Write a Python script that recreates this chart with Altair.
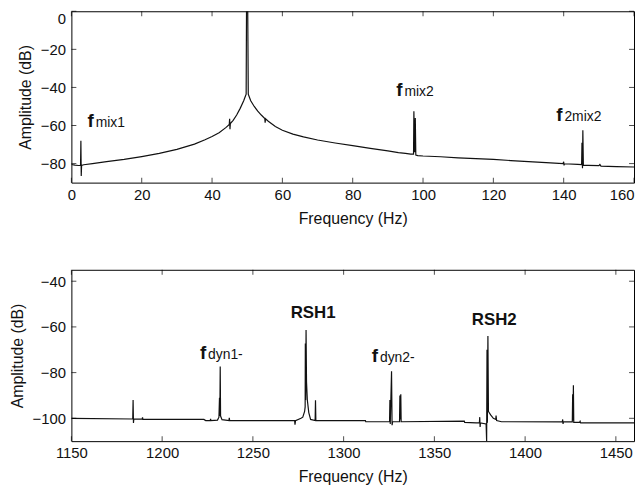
import altair as alt
import pandas as pd

# ---------------- data: top spectrum (0-160 Hz) ----------------
top_freq = [0.0, 1.0, 2.0, 2.6, 2.7, 2.8, 2.9, 3.5, 6, 10, 15, 20, 25, 30, 35, 38, 40, 42, 44,
            44.9, 45.0, 45.1, 45.2, 46, 47, 48, 49, 49.5, 49.7, 49.8, 50.15, 50.3, 50.6, 51, 52,
            53, 54, 55, 55.1, 55.2, 56, 58, 60, 63, 66, 70, 75, 80, 85, 90, 93, 95, 96.5, 97.3,
            97.4, 97.6, 97.8, 97.95, 98.5, 100, 105, 110, 115, 120, 125, 130, 135, 139.8, 140,
            140.1, 140.2, 144, 145.1, 145.2, 145.35, 145.45, 145.6, 147, 150, 150.3, 150.6, 155, 160]
top_amp = [-80.5, -80.8, -81.0, -81.0, -68.0, -86.5, -81.0, -80.6, -80.0, -79.0, -77.8, -76.3,
           -74.6, -72.5, -69.8, -67.5, -65.8, -63.8, -61.0, -59.5, -56.5, -62.0, -59.0, -57.3,
           -54.5, -51.0, -47.0, -44.5, -43.5, 0.0, 0.0, -43.5, -45.0, -47.0, -50.0, -52.5, -54.5,
           -56.3, -58.5, -56.5, -57.8, -60.5, -62.5, -64.5, -66.0, -67.6, -69.2, -70.6, -72.0,
           -73.3, -74.2, -74.6, -75.0, -75.0, -52.5, -74.0, -56.0, -75.5, -75.8, -76.0, -76.4,
           -77.0, -77.4, -77.8, -78.4, -79.0, -79.5, -80.0, -79.0, -81.0, -80.1, -80.4, -80.5,
           -69.0, -82.5, -62.5, -80.8, -80.9, -81.1, -80.5, -81.3, -81.6, -81.8]

# ---------------- data: bottom spectrum (1150-1460 Hz) ----------------
bot_freq = [1150, 1183.8, 1184.0, 1184.2, 1184.4, 1189, 1189.2, 1189.4, 1223, 1224, 1226.5,
            1226.7, 1226.9, 1230.5, 1231.3, 1231.6, 1231.8, 1232.0, 1232.2, 1233, 1236.8, 1237,
            1237.2, 1273, 1273.2, 1273.5, 1276.5, 1277.5, 1278.5, 1278.8, 1278.9, 1279.1, 1279.3,
            1279.55, 1280, 1280.8, 1281.8, 1284.3, 1284.5, 1284.7, 1312, 1312.2, 1325.3, 1325.5,
            1325.7, 1326.4, 1326.7, 1327, 1330.8, 1331, 1331.3, 1331.5, 1331.7, 1366.5, 1366.7,
            1373, 1374.8, 1375, 1375.2, 1375.4, 1378.5, 1378.8, 1379.0, 1379.2, 1379.5, 1379.8,
            1381, 1382.5, 1383.8, 1384, 1384.3, 1387, 1420.5, 1420.7, 1420.9, 1421.1, 1426.0,
            1426.2, 1426.4, 1426.6, 1426.8, 1430, 1430.3, 1430.6, 1460]
bot_amp = [-100.0, -100.3, -92.0, -102.0, -100.3, -100.4, -99.6, -100.5, -100.5, -101.0, -101.0,
           -100.3, -101.0, -100.8, -99.5, -91.0, -99.0, -77.3, -99.0, -100.6, -101.0, -99.8,
           -101.0, -101.0, -102.8, -101.0, -100.0, -99.5, -97.0, -95.0, -67.3, -92.0, -61.3,
           -84.0, -92.0, -97.5, -100.5, -101.0, -92.1, -101.0, -101.0, -101.5, -101.5, -92.0,
           -102.5, -79.4, -103.0, -101.5, -101.5, -90.0, -100.5, -89.5, -101.5, -101.2, -101.8,
           -102.0, -102.0, -99.5, -103.8, -102.0, -102.5, -110.0, -70.0, -102.0, -64.0, -97.0,
           -98.5, -100.0, -100.5, -98.8, -101.0, -101.5, -101.6, -100.5, -102.5, -101.6, -101.6,
           -89.5, -101.0, -85.5, -101.8, -101.8, -101.3, -102.0, -102.0]

# ---------------- annotations ----------------
top_f_x = [4.6, 92.4, 137.9]
top_f_y = [-61.0, -44.6, -57.7]
top_sub_x = [6.9, 94.7, 140.2]
top_sub_text = ["mix1", "mix2", "2mix2"]

bot_f_x = [1220.8, 1315.5]
bot_f_y = [-74.1, -75.5]
bot_sub_x = [1225.3, 1320.0]
bot_sub_text = ["dyn1-", "dyn2-"]
bot_rsh_x = [1283.2, 1383.0]
bot_rsh_y = [-56.1, -59.0]
bot_rsh_text = ["RSH1", "RSH2"]

top_xticks = [0, 20, 40, 60, 80, 100, 120, 140, 160]
top_yticks = [0, -20, -40, -60, -80]
bot_xticks = [1150, 1200, 1250, 1300, 1350, 1400, 1450]
bot_yticks = [-40, -60, -80, -100]

FONT = "Liberation Sans"
INK = "#111111"
W, H = 568, 173
TICK = 5


def panel(freq, amp, xdom, ydom, xticks, yticks, f_x, f_y, sub_x, sub_text,
          bold_x=None, bold_y=None, bold_text=None):
    df = pd.DataFrame({"f": freq, "a": amp, "i": list(range(len(freq)))})
    xs = alt.Scale(domain=xdom, nice=False, zero=False)
    ys = alt.Scale(domain=ydom, nice=False, zero=False)
    right_end = xdom[1]
    xaxis = alt.Axis(values=xticks, title="Frequency (Hz)", orient="bottom",
                     format="d", ticks=False, domain=False,
                     labelPadding=5, titlePadding=8,
                     labelAlign={"expr": f"datum.value >= {right_end} ? 'right' : 'center'"})
    yaxis = alt.Axis(values=yticks, title="Amplitude (dB)", orient="left",
                     format="d", ticks=False, domain=False,
                     labelPadding=6, titlePadding=7, labelFlush=True)

    def X(field):
        return alt.X(field, type="quantitative", scale=xs, axis=xaxis, title="Frequency (Hz)")

    def Y(field):
        return alt.Y(field, type="quantitative", scale=ys, axis=yaxis, title="Amplitude (dB)")

    def XD(v):
        return alt.XDatum(v, type="quantitative", scale=xs, axis=xaxis, title="Frequency (Hz)")

    def YD(v):
        return alt.YDatum(v, type="quantitative", scale=ys, axis=yaxis, title="Amplitude (dB)")

    line = alt.Chart(df).mark_line(color=INK, strokeWidth=1.2, clip=True).encode(
        x=X("f"), y=Y("a"), order="i:Q",
    )

    # inward tick marks on all four sides of the box
    xt = pd.DataFrame({"v": xticks})
    yt = pd.DataFrame({"v": yticks})
    st = dict(color="black", thickness=1, size=TICK)
    half = TICK / 2
    xt_bottom = alt.Chart(xt).mark_tick(orient="vertical", yOffset=-half, **st).encode(
        x=X("v"), y=YD(ydom[0]))
    xt_top = alt.Chart(xt).mark_tick(orient="vertical", yOffset=half, **st).encode(
        x=X("v"), y=YD(ydom[1]))
    yt_left = alt.Chart(yt).mark_tick(orient="horizontal", xOffset=half, **st).encode(
        y=Y("v"), x=XD(xdom[0]))
    yt_right = alt.Chart(yt).mark_tick(orient="horizontal", xOffset=-half, **st).encode(
        y=Y("v"), x=XD(xdom[1]))

    fdf = pd.DataFrame({"f": f_x, "a": f_y, "t": ["f"] * len(f_x)})
    fmark = alt.Chart(fdf).mark_text(align="left", baseline="alphabetic", font=FONT,
                                     fontSize=19, fontWeight="bold", color=INK).encode(
        x=X("f"), y=Y("a"), text="t:N",
    )

    sdf = pd.DataFrame({"f": sub_x, "a": f_y, "t": sub_text})
    smark = alt.Chart(sdf).mark_text(align="left", baseline="alphabetic", font=FONT,
                                     fontSize=14, color=INK).encode(
        x=X("f"), y=Y("a"), text="t:N",
    )
    layers = [line, xt_bottom, xt_top, yt_left, yt_right, fmark, smark]
    if bold_x is not None:
        bdf = pd.DataFrame({"f": bold_x, "a": bold_y, "t": bold_text})
        layers.append(alt.Chart(bdf).mark_text(align="center", baseline="alphabetic",
                                               font=FONT, fontSize=17, fontWeight="bold",
                                               color=INK).encode(
            x=X("f"), y=Y("a"), text="t:N",
        ))
    return alt.layer(*layers).properties(width=W, height=H)


top = panel(top_freq, top_amp, [0, 160], [-90, 0], top_xticks, top_yticks,
            top_f_x, top_f_y, top_sub_x, top_sub_text)
bottom = panel(bot_freq, bot_amp, [1150, 1460], [-110, -35], bot_xticks, bot_yticks,
               bot_f_x, bot_f_y, bot_sub_x, bot_sub_text, bot_rsh_x, bot_rsh_y, bot_rsh_text)

chart = alt.vconcat(top, bottom, spacing=42).properties(
    padding={"top": 0, "left": 0, "right": 0, "bottom": 0},
    background="white",
).configure_view(stroke="black", strokeWidth=1).configure_axis(
    grid=False, labelFont=FONT, titleFont=FONT, labelFontSize=15, titleFontSize=16,
    titleFontWeight="normal", labelColor=INK, titleColor=INK,
)

chart.save("out.html", embed_options={"renderer": "svg", "actions": False})
